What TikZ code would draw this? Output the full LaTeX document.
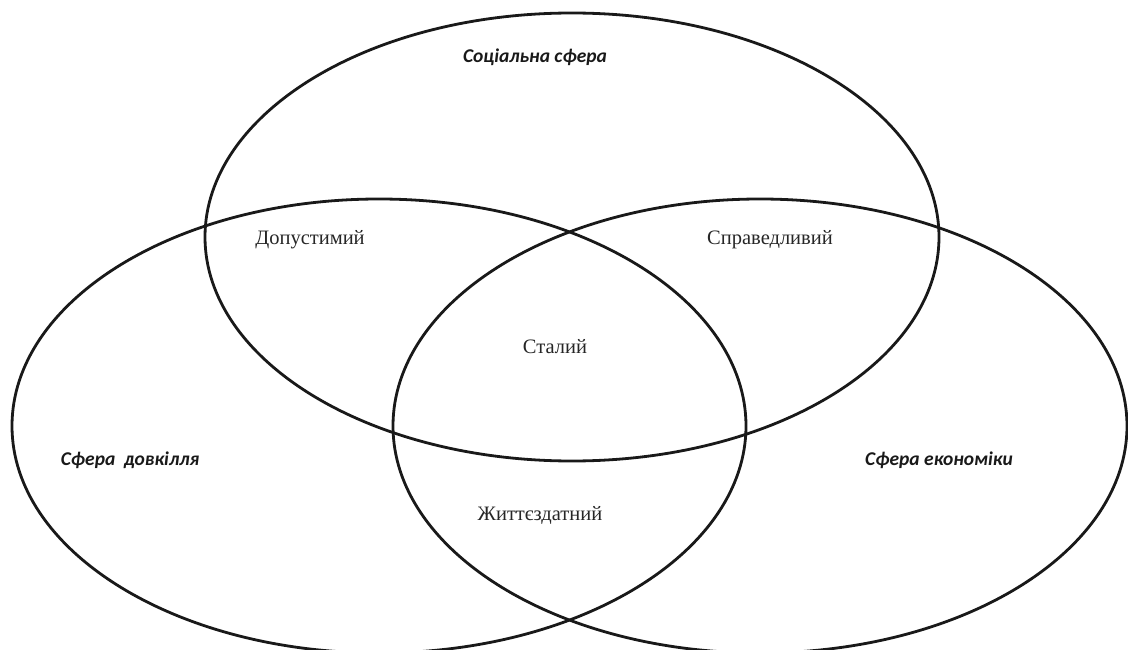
\documentclass[tikz,border=0pt]{standalone}
\usepackage{fontspec}
\setmainfont{Liberation Serif}
\newfontfamily\labsans{Carlito}
\begin{document}
\begin{tikzpicture}[x=1pt,y=-1pt,
  sphere/.style={draw=black!90,line width=2.8pt},
  region/.style={font=\fontsize{20.5}{22}\selectfont, text=black!85},
  spherelab/.style={font=\labsans\bfseries\itshape\fontsize{19.5}{22}\selectfont, text=black!90}]
\useasboundingbox (0,0) rectangle (1128,650);
\begin{scope}
\clip (0,0) rectangle (1128,650);
\draw[sphere] (572,237) ellipse [x radius=367, y radius=224];
\draw[sphere] (379,426) ellipse [x radius=367, y radius=227];
\draw[sphere] (760,426) ellipse [x radius=367, y radius=227];
\end{scope}
\node[spherelab] (soc) at (535,57) {Соціальна сфера};
\node[spherelab] (env) at (130,460) {Сфера~~довкілля};
\node[spherelab] (eco) at (939,460) {Сфера економіки};
\node[region] (dop) at (310,240) {Допустимий};
\node[region] (spr) at (770,240) {Справедливий};
\node[region] (sta) at (555,347) {Сталий};
\node[region] (zht) at (540,515) {Життєздатний};
\end{tikzpicture}
\end{document}
